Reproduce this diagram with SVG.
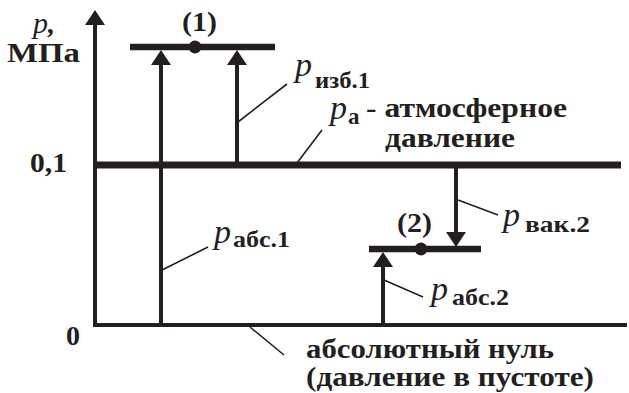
<svg xmlns="http://www.w3.org/2000/svg" width="629" height="393" viewBox="0 0 629 393">
<style>
.ln{stroke:#231f20;fill:none;stroke-linecap:butt}
.ax{stroke-width:4}
.thick{stroke-width:6.5}
.ld{stroke-width:1.6}
text{font-family:"Liberation Serif","Times New Roman","DejaVu Serif",serif;fill:#231f20}
.b{font-weight:bold;font-size:28px}
.s{font-weight:bold;font-size:23px}
.p{font-style:italic;font-size:34px}
</style>
<defs>
<marker id="ah" viewBox="0 0 15 20" refX="0" refY="10" markerWidth="15" markerHeight="20" markerUnits="userSpaceOnUse" orient="auto">
<path d="M0,0 L15,10 L0,20 Z" fill="#231f20"/>
</marker>
</defs>
<g id="axes">
<path class="ln ax" d="M95,325 V25" marker-end="url(#ah)"/>
<path class="ln ax" d="M93,325 H627"/>
</g>
<g id="atm-line"><path class="ln" style="stroke-width:7" d="M95,165 H621"/></g>
<g id="state1">
<path class="ln thick" d="M130,47 H275"/>
<circle cx="195" cy="47" r="6.5" fill="#231f20"/>
<text class="b" x="182" y="31" textLength="35" lengthAdjust="spacingAndGlyphs">(1)</text>
</g>
<g id="state2">
<path class="ln thick" d="M369,249 H481"/>
<circle cx="421" cy="249" r="6.5" fill="#231f20"/>
<text class="b" x="397" y="232" textLength="35" lengthAdjust="spacingAndGlyphs">(2)</text>
</g>
<g id="connectors">
<path class="ln ax" d="M161,325 V65" marker-end="url(#ah)"/>
<path class="ln ax" d="M237,165 V65" marker-end="url(#ah)"/>
<path class="ln ax" d="M456,165 V232" marker-end="url(#ah)"/>
<path class="ln ax" d="M383,325 V267" marker-end="url(#ah)"/>
<path class="ln ld" d="M238,122 L287,84"/>
<path class="ln ld" d="M297,163 L322,130"/>
<path class="ln ld" d="M458,200 L498,215"/>
<path class="ln ld" d="M162,270 L208,247"/>
<path class="ln ld" d="M384,280 L423,297"/>
<path class="ln ld" d="M250,327 L284,355"/>
</g>
<g id="axis-labels">
<text class="p" x="33" y="33" style="font-size:30px">p<tspan class="b">,</tspan></text>
<text class="b" x="7" y="62" textLength="73" lengthAdjust="spacingAndGlyphs">МПа</text>
<text class="b" x="30" y="172" textLength="37" lengthAdjust="spacingAndGlyphs">0,1</text>
<text class="b" x="66" y="345">0</text>
</g>
<g id="p-izb">
<text class="p" x="295" y="76">p</text>
<text class="s" x="315" y="88" textLength="55" lengthAdjust="spacingAndGlyphs">изб.1</text>
</g>
<g id="p-a">
<text class="p" x="330" y="119">p</text>
<text class="s" x="348" y="124">а</text>
<text class="b" x="366" y="117" textLength="201" lengthAdjust="spacingAndGlyphs">- атмосферное</text>
<text class="b" x="385" y="147" textLength="130" lengthAdjust="spacingAndGlyphs">давление</text>
</g>
<g id="p-vak">
<text class="p" x="503" y="226">p</text>
<text class="s" x="525" y="232" textLength="65" lengthAdjust="spacingAndGlyphs">вак.2</text>
</g>
<g id="p-abs1">
<text class="p" x="214" y="243">p</text>
<text class="s" x="233" y="247" textLength="57" lengthAdjust="spacingAndGlyphs">абс.1</text>
</g>
<g id="p-abs2">
<text class="p" x="431" y="300">p</text>
<text class="s" x="452" y="305" textLength="57" lengthAdjust="spacingAndGlyphs">абс.2</text>
</g>
<g id="zero-label">
<text class="b" x="306" y="358" textLength="248" lengthAdjust="spacingAndGlyphs">абсолютный нуль</text>
<text class="b" x="306" y="386" textLength="288" lengthAdjust="spacingAndGlyphs">(давление в пустоте)</text>
</g>
</svg>
